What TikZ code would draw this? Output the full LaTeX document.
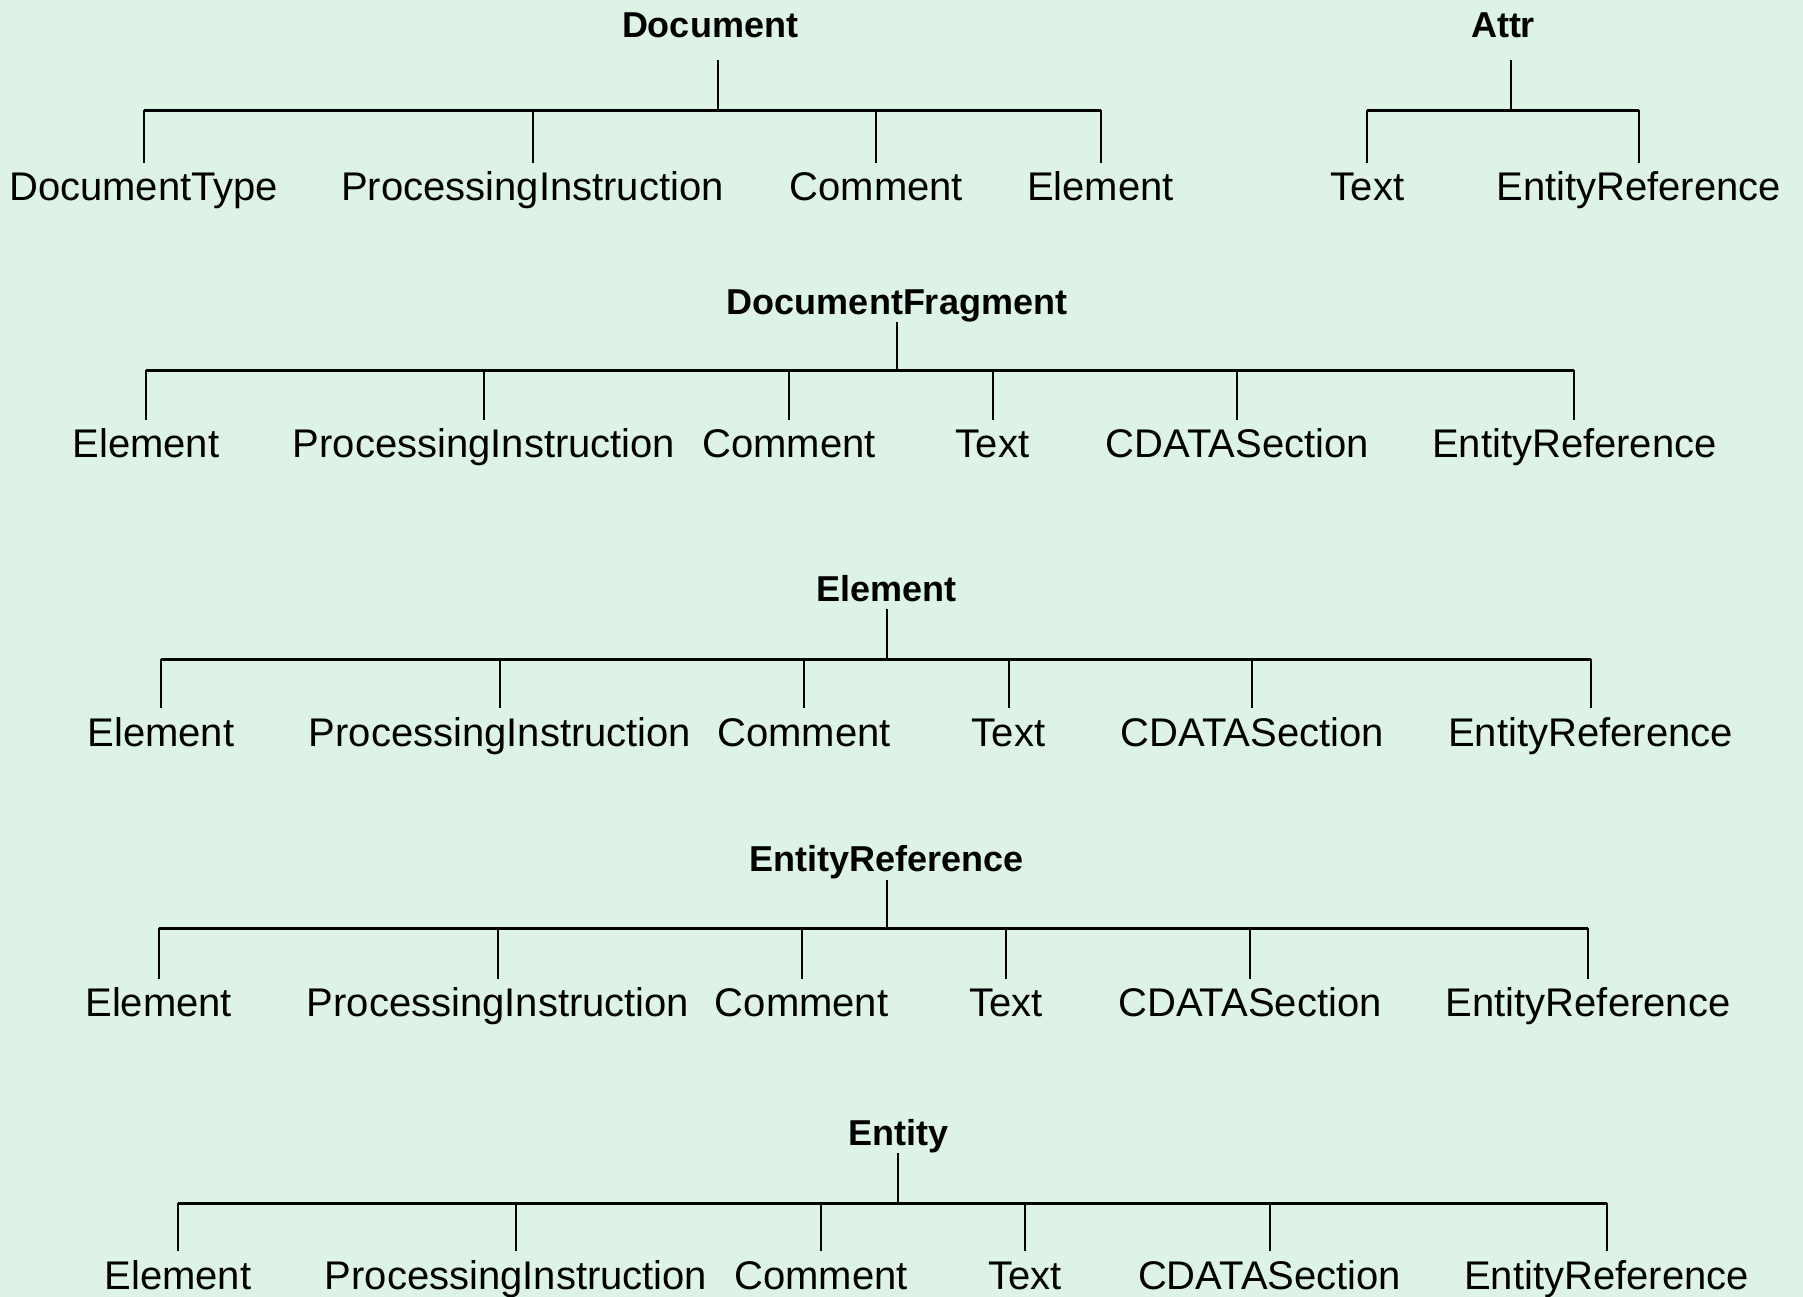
\documentclass[tikz,border=0pt]{standalone}
\usepackage{fontspec}
\setmainfont{Liberation Sans}
\usetikzlibrary{positioning}
\definecolor{mint}{RGB}{220,243,230}

\begin{document}
\begin{tikzpicture}[
		x=1pt, y=-1pt,
		title/.style={anchor=base, font=\bfseries\fontsize{36}{36}\selectfont, inner sep=0pt, text depth=0pt, outer ysep=8pt},
		leaf/.style={anchor=base, font=\fontsize{40}{40}\selectfont, inner sep=0pt, text height=29pt, text depth=0pt, outer ysep=9pt},
		bar/.style={line width=3pt},
		link/.style={line width=2pt},
	]
		\fill[mint] (0,0) rectangle (1803,1297);
		\useasboundingbox (0,0) rectangle (1803,1297);

		% Document
		\node[title, outer ysep=22pt] (doc) at (710,38) {Document};
		\coordinate (docbar) at (717.6,110.4);
		\node[leaf] (dtype) at (143.75,201) {DocumentType};
		\node[leaf] (dpi) at (532.5,201) {ProcessingInstruction};
		\node[leaf] (dcom) at (876.3,201) {Comment};
		\node[leaf] (delem) at (1100.5,201) {Element};
		\draw[bar] (dtype.north |- docbar) -- (delem.north |- docbar);
		\draw[link] (docbar |- doc.south) -- (docbar);
		\draw[link] (dtype.north) -- (dtype.north |- docbar);
		\draw[link] (dpi.north) -- (dpi.north |- docbar);
		\draw[link] (dcom.north) -- (dcom.north |- docbar);
		\draw[link] (delem.north) -- (delem.north |- docbar);

		% Attr
		\node[title, outer ysep=22pt] (attr) at (1503,38) {Attr};
		\coordinate (attrbar) at (1511,110.4);
		\node[leaf] (atext) at (1367.4,201) {Text};
		\node[leaf] (aref) at (1638.75,201) {EntityReference};
		\draw[bar] (atext.north |- attrbar) -- (aref.north |- attrbar);
		\draw[link] (attrbar |- attr.south) -- (attrbar);
		\draw[link] (atext.north) -- (atext.north |- attrbar);
		\draw[link] (aref.north) -- (aref.north |- attrbar);

		% DocumentFragment
		\node[title] (frag) at (897,314) {DocumentFragment};
		\coordinate (fragbar) at (897,370.3);
		\node[leaf] (felem) at (146,457.7) {Element};
		\node[leaf] (fpi) at (484,457.7) {ProcessingInstruction};
		\node[leaf] (fcom) at (789,457.7) {Comment};
		\node[leaf] (ftext) at (992.5,457.7) {Text};
		\node[leaf] (fcdata) at (1237.4,457.7) {CDATASection};
		\node[leaf] (fref) at (1574.4,457.7) {EntityReference};
		\draw[bar] (felem.north |- fragbar) -- (fref.north |- fragbar);
		\draw[link] (frag.south) -- (fragbar);
		\draw[link] (felem.north) -- (felem.north |- fragbar);
		\draw[link] (fpi.north) -- (fpi.north |- fragbar);
		\draw[link] (fcom.north) -- (fcom.north |- fragbar);
		\draw[link] (ftext.north) -- (ftext.north |- fragbar);
		\draw[link] (fcdata.north) -- (fcdata.north |- fragbar);
		\draw[link] (fref.north) -- (fref.north |- fragbar);

		% Element
		\node[title] (elem) at (886.7,601) {Element};
		\coordinate (elembar) at (886.7,659);
		\node[leaf] (eelem) at (161,746) {Element};
		\node[leaf] (epi) at (500,746) {ProcessingInstruction};
		\node[leaf] (ecom) at (804,746) {Comment};
		\node[leaf] (etext) at (1008.6,746) {Text};
		\node[leaf] (ecdata) at (1252.4,746) {CDATASection};
		\node[leaf] (eref) at (1590.5,746) {EntityReference};
		\draw[bar] (eelem.north |- elembar) -- (eref.north |- elembar);
		\draw[link] (elem.south) -- (elembar);
		\draw[link] (eelem.north) -- (eelem.north |- elembar);
		\draw[link] (epi.north) -- (epi.north |- elembar);
		\draw[link] (ecom.north) -- (ecom.north |- elembar);
		\draw[link] (etext.north) -- (etext.north |- elembar);
		\draw[link] (ecdata.north) -- (ecdata.north |- elembar);
		\draw[link] (eref.north) -- (eref.north |- elembar);

		% EntityReference
		\node[title] (ref) at (886.7,871.7) {EntityReference};
		\coordinate (refbar) at (886.7,928);
		\node[leaf] (relem) at (158.7,1016.6) {Element};
		\node[leaf] (rpi) at (498,1016.6) {ProcessingInstruction};
		\node[leaf] (rcom) at (801.6,1016.6) {Comment};
		\node[leaf] (rtext) at (1006,1016.6) {Text};
		\node[leaf] (rcdata) at (1250,1016.6) {CDATASection};
		\node[leaf] (rref) at (1588,1016.6) {EntityReference};
		\draw[bar] (relem.north |- refbar) -- (rref.north |- refbar);
		\draw[link] (ref.south) -- (refbar);
		\draw[link] (relem.north) -- (relem.north |- refbar);
		\draw[link] (rpi.north) -- (rpi.north |- refbar);
		\draw[link] (rcom.north) -- (rcom.north |- refbar);
		\draw[link] (rtext.north) -- (rtext.north |- refbar);
		\draw[link] (rcdata.north) -- (rcdata.north |- refbar);
		\draw[link] (rref.north) -- (rref.north |- refbar);

		% Entity
		\node[title] (ent) at (898,1145) {Entity};
		\coordinate (entbar) at (898,1203);
		\node[leaf] (nelem) at (178,1289) {Element};
		\node[leaf] (npi) at (516,1289) {ProcessingInstruction};
		\node[leaf] (ncom) at (821,1289) {Comment};
		\node[leaf] (ntext) at (1024.7,1289) {Text};
		\node[leaf] (ncdata) at (1269.6,1289) {CDATASection};
		\node[leaf] (nref) at (1606.5,1289) {EntityReference};
		\draw[bar] (nelem.north |- entbar) -- (nref.north |- entbar);
		\draw[link] (ent.south) -- (entbar);
		\draw[link] (nelem.north) -- (nelem.north |- entbar);
		\draw[link] (npi.north) -- (npi.north |- entbar);
		\draw[link] (ncom.north) -- (ncom.north |- entbar);
		\draw[link] (ntext.north) -- (ntext.north |- entbar);
		\draw[link] (ncdata.north) -- (ncdata.north |- entbar);
		\draw[link] (nref.north) -- (nref.north |- entbar);
	\end{tikzpicture}
\end{document}
